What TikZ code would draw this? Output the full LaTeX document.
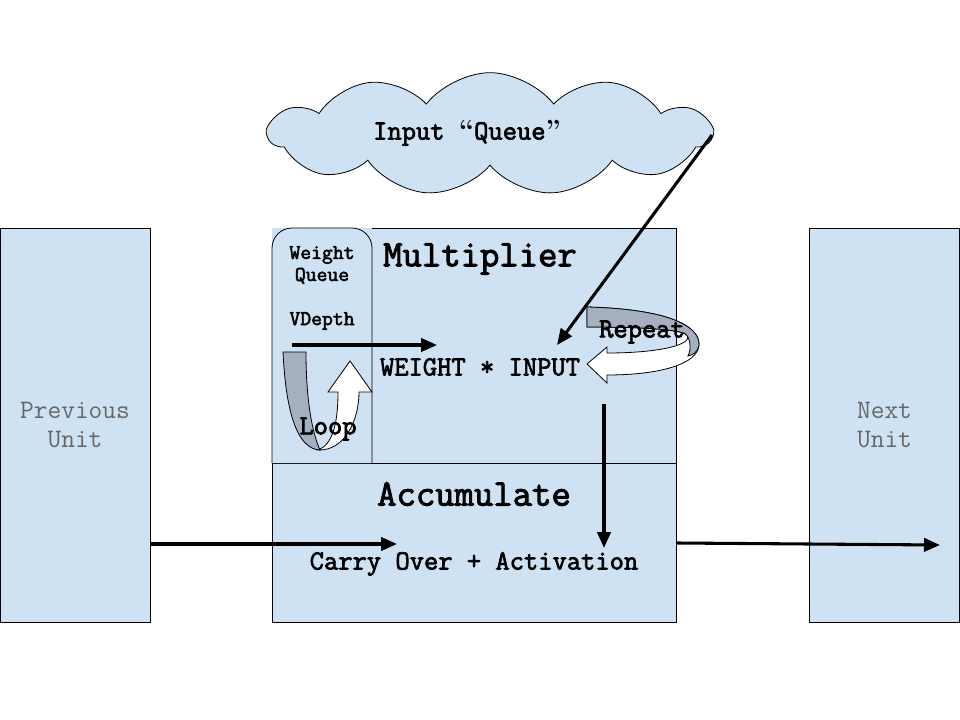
\documentclass[tikz,border=0pt]{standalone}
\usepackage{fontspec}
\setmonofont{Latin Modern Mono}[BoldFont=Latin Modern Mono,BoldFeatures={FakeBold=2.5}]
\usetikzlibrary{arrows.meta,shapes.symbols,positioning,calc}

\definecolor{boxblue}{RGB}{207,226,243}
\definecolor{bandgray}{RGB}{164,176,191}
\definecolor{unittext}{RGB}{102,102,102}

\begin{document}
\begin{tikzpicture}[x=0.75pt,y=-0.75pt,
  unit/.style={draw=black,line width=0.6pt,fill=boxblue,minimum width=112.5pt,
    minimum height=295.5pt,inner sep=0pt,align=center,
    font=\ttfamily\fontsize{20}{22}\selectfont,text=unittext},
  lbl/.style={font=\ttfamily\bfseries\fontsize{20.8}{22}\selectfont,inner sep=1pt},
  big/.style={font=\ttfamily\bfseries\fontsize{28.2}{30}\selectfont,inner sep=1pt},
  small/.style={font=\ttfamily\bfseries\fontsize{15.8}{16.5}\selectfont,align=center,inner sep=1pt},
  flow/.style={line width=2.3pt,-{Triangle[length=12pt,width=10pt]}},
  thin/.style={draw=black,line width=0.6pt}]

  % page
  \useasboundingbox[fill=white] (0,0) rectangle (960,720);

  % neighbour units
  \node[unit] (prev) at (75,425) {Previous\\Unit};
  \node[unit] (next) at (884.5,425) {Next\\Unit};

  % multiplier and accumulate boxes
  \fill[boxblue] (272,228) rectangle (676,622);
  \draw[thin] (372,228) -- (676,228) -- (676,622) -- (272,622) -- (272,463);
  \draw[thin] (272,463) -- (676,463);

  % weight queue, rounded top corners
  \draw[thin,fill=boxblue,rounded corners=15] (272,463) -- (272,228) -- (372,228) -- (372,463);

  % input cloud
  \node[cloud,cloud puffs=11,cloud puff arc=105,cloud ignores aspect,thin,fill=boxblue,
    minimum width=332pt,minimum height=92pt] (iq) at (490,134) {};
  \node[lbl] (iqtext) at (467,133) {Input {\rmfamily\bfseries“}Queue{\rmfamily\bfseries”}};

  % labels
  \node[big] (mult) at (480,259) {Multiplier};
  \node[big] (acc) at (474,494) {Accumulate};
  \node[small] (wq) at (322,265) {Weight\\Queue};
  \node[small] (vd) at (322,321) {VDepth};
  \node[lbl] (wi) at (480,367) {WEIGHT * INPUT};
  \node[lbl] (co) at (474,564) {Carry Over + Activation};

  % repeat arrow (white front part, grey back part)
  \draw[thin,fill=white] (587,307) .. controls (665,309) and (700,325) .. (699,345)
    .. controls (698,364) and (660,375) .. (607,375) -- (607,383) -- (587,364)
    -- (607,347) -- (607,353) .. controls (655,353) and (690,346) .. (688,336)
    .. controls (684,330) and (650,327) .. (587,327) -- cycle;
  \draw[thin,fill=bandgray] (587,307) .. controls (665,309) and (700,325) .. (699,345)
    .. controls (698,352) and (693,355) .. (688,356)
    .. controls (692,348) and (690,336) .. (684,333)
    .. controls (670,329) and (640,327) .. (587,327) -- cycle;
  \node[lbl] (rep) at (642,332) {Repeat};

  % loop arrow
  \draw[thin,fill=white] (318,450) .. controls (345,451) and (359,420) .. (359,392)
    -- (372,392) -- (350,361) -- (328,392) -- (338,392)
    .. controls (338,425) and (332,445) .. (318,450) -- cycle;
  \draw[thin,fill=bandgray] (283,352) .. controls (286,415) and (298,449) .. (320,450)
    .. controls (312,432) and (306,400) .. (306,352) -- cycle;
  \node[lbl] (loop) at (328,429) {Loop};

  % flow arrows
  \coordinate (vqa) at (292,345);
  \coordinate (vqb) at (437,345);
  \coordinate (cloudout) at (712,135);
  \coordinate (wiin) at (557,345);
  \coordinate (wiout) at (604,404);
  \coordinate (coin) at (604,548);
  \coordinate (previn) at (150,544);
  \coordinate (accin) at (397,544);
  \coordinate (accout) at (677,543);
  \coordinate (nextin) at (940,545);

  \draw[flow] (vqa) -- (vqb);
  \draw[flow] (cloudout) -- (wiin);
  \draw[flow] (wiout) -- (coin);
  \draw[flow] (previn) -- (accin);
  \draw[flow] (accout) -- (nextin);
\end{tikzpicture}
\end{document}
